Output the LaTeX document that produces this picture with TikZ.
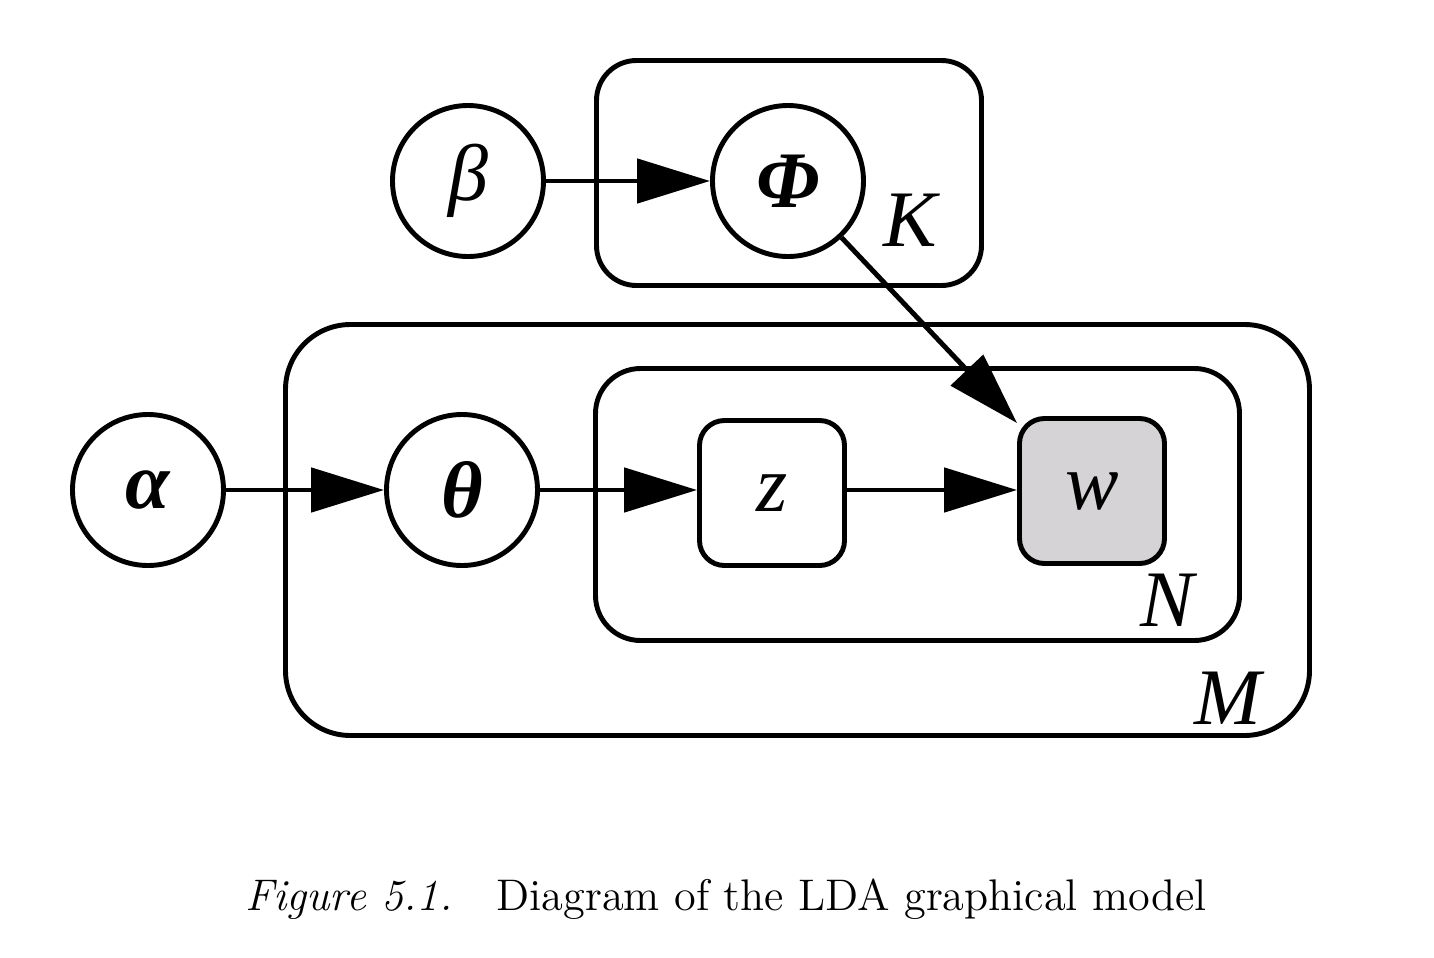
\documentclass[tikz,border=0pt]{standalone}
\usepackage{fontspec}
\usepackage{tikz}
\newfontfamily\figfont{Liberation Serif}
\definecolor{obsgray}{RGB}{213, 211, 213}
\usetikzlibrary{arrows.meta,positioning}

\begin{document}
\begin{tikzpicture}[
    var/.style={circle, draw, line width=1.4pt, minimum size=1.51cm, inner sep=0pt, font=\fontsize{22.8}{27}\selectfont\figfont\itshape},
    latent/.style={rectangle, rounded corners=0.25cm, draw, line width=1.4pt, minimum size=1.45cm, inner sep=0pt, font=\fontsize{22.8}{27}\selectfont\figfont\itshape},
    plate/.style={rectangle, draw, line width=1.4pt, inner sep=0pt},
    platelabel/.style={inner sep=0pt, font=\fontsize{22.8}{27}\selectfont\figfont\itshape},
    link/.style={-{Triangle[length=0.73cm, width=0.44cm]}, line width=1.4pt}
]
    \useasboundingbox (0,0) rectangle (14.34,-9.58);

    % Plates
    \node[plate, rounded corners=0.4cm, minimum width=3.85cm, minimum height=2.25cm] (plateK) at (7.89,-1.73) {};
    \node[plate, rounded corners=0.65cm, minimum width=10.24cm, minimum height=4.11cm] (plateM) at (7.975,-5.30) {};
    \node[plate, rounded corners=0.45cm, minimum width=6.44cm, minimum height=2.72cm] (plateN) at (9.175,-5.045) {};

    % Variables
    \node[var] (beta) at (4.68,-1.81) {β};
    \node[var, font=\fontsize{22.8}{27}\selectfont\figfont\bfseries\itshape] (Phi) at (7.88,-1.81) {Φ};
    \node[var, font=\fontsize{22.8}{27}\selectfont\figfont\bfseries\itshape] (alpha) at (1.48,-4.90) {α};
    \node[var, font=\fontsize{22.8}{27}\selectfont\figfont\bfseries\itshape] (theta) at (4.62,-4.90) {θ};
    \node[latent] (z) at (7.72,-4.93) {z};
    \node[latent, fill=obsgray] (w) at (10.92,-4.91) {w};

    % Plate labels
    \node[platelabel] (labK) at (9.10,-2.20) {K};
    \node[platelabel] (labN) at (11.67,-6.00) {N};
    \node[platelabel] (labM) at (12.28,-6.98) {M};

    % Arrows
    \draw[link] (beta) -- (Phi);
    \draw[link] (alpha) -- (theta);
    \draw[link] (theta.east) -- (theta.east -| z.west);
    \draw[link] (z.east |- theta) -- (z.east |- theta -| w.west);
    \draw[link] (Phi) -- ([yshift=-2pt]w.north west);

    % Caption
    \node[anchor=base, inner sep=0pt, font=\fontsize{12.6}{15}\selectfont] (caption) at (7.26,-9.10) {\textit{Figure 5.1.}\quad Diagram of the LDA graphical model};
\end{tikzpicture}
\end{document}
